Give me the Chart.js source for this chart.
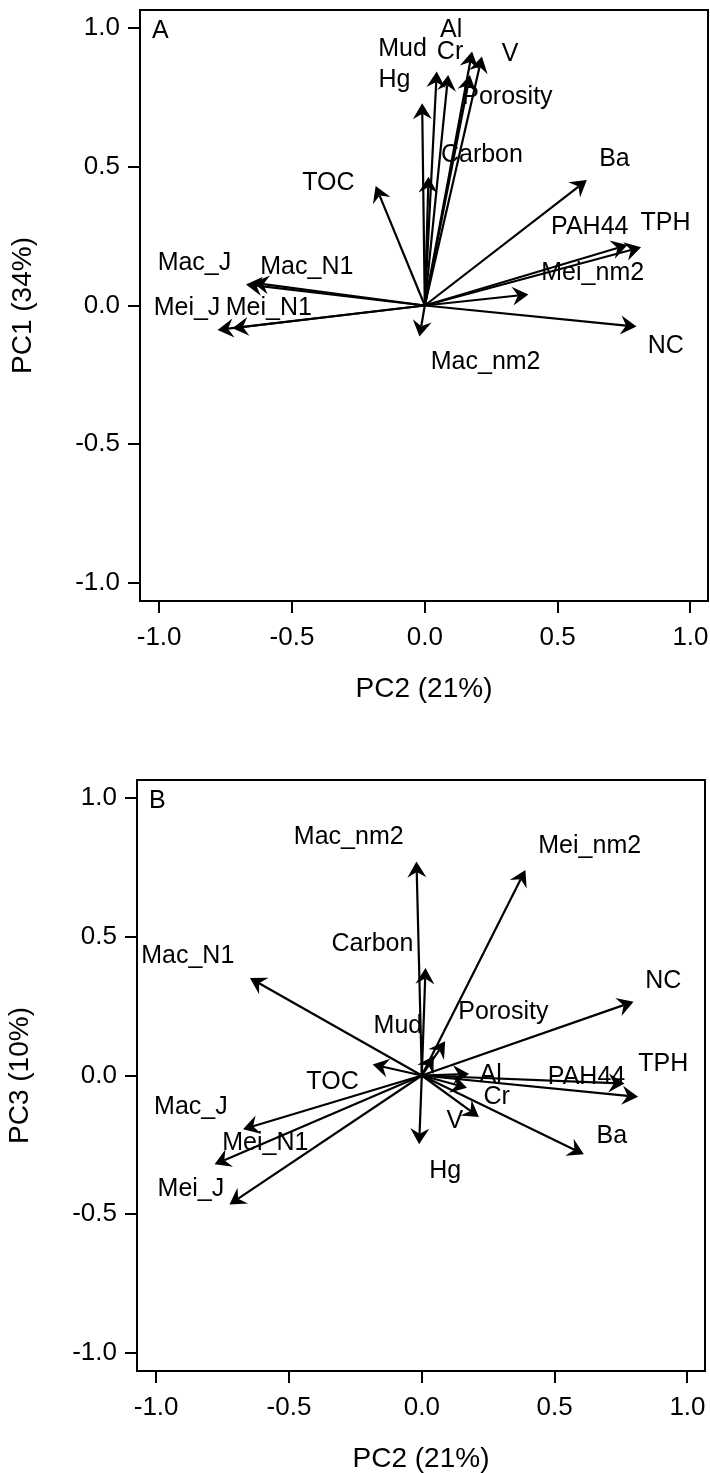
<!DOCTYPE html>
<html>
<head>
<meta charset="utf-8">
<script src="https://cdn.jsdelivr.net/npm/chart.js@4.4.1/dist/chart.umd.min.js"></script>
<style>
html,body{margin:0;padding:0;background:#fff;width:710px;height:1473px;overflow:hidden;position:relative}
canvas{position:absolute;background:#fff}
#cA{left:0;top:0}
#cB{left:-3px;top:770px}
</style>
</head>
<body>
<canvas id="cA" width="710" height="703"></canvas>
<canvas id="cB" width="710" height="703"></canvas>
<script>
// ---- data (PCA loadings) ----
const variables = ["Al","Mud","Cr","V","Hg","Porosity","Carbon","Ba","TOC","PAH44","TPH","Mac_J","Mac_N1","Mei_nm2","Mei_J","Mei_N1","NC","Mac_nm2"];
const pc2 = [0.178, 0.045, 0.17, 0.215, -0.01, 0.088, 0.014, 0.61, -0.185, 0.763, 0.814, -0.673, -0.647, 0.39, -0.724, -0.78, 0.797, -0.02];
const pc1 = [0.915, 0.843, 0.831, 0.897, 0.729, 0.831, 0.464, 0.452, 0.431, 0.218, 0.21, 0.076, 0.082, 0.04, -0.082, -0.088, -0.076, -0.112];
const pc3 = [0.005, 0.07, -0.044, -0.15, -0.248, 0.123, 0.387, -0.284, 0.04, -0.029, -0.077, -0.194, 0.351, 0.741, -0.465, -0.32, 0.266, 0.771];

// label anchors (data units) for each panel
const labelA_pc2 = [0.099, -0.084, 0.095, 0.321, -0.114, 0.311, 0.215, 0.714, -0.363, 0.621, 0.906, -0.867, -0.444, 0.632, -0.895, -0.587, 0.907, 0.229];
const labelA_pc1 = [0.993, 0.923, 0.915, 0.906, 0.813, 0.752, 0.542, 0.527, 0.440, 0.284, 0.298, 0.152, 0.140, 0.116, -0.009, -0.009, -0.148, -0.203];
const labelB_pc2 = [0.259, -0.090, 0.282, 0.124, 0.088, 0.307, -0.186, 0.715, -0.336, 0.620, 0.909, -0.869, -0.881, 0.632, -0.869, -0.589, 0.909, -0.275];
const labelB_pc3 = [0.0, 0.178, -0.079, -0.166, -0.345, 0.228, 0.472, -0.220, -0.025, -0.005, 0.040, -0.115, 0.432, 0.825, -0.411, -0.242, 0.340, 0.858];

const axisTicks = [-1, -0.5, 0, 0.5, 1];
const xTitle = "PC2 (21%)";
const yTitleA = "PC1 (34%)";
const yTitleB = "PC3 (10%)";

// ---- drawing ----
const FONT = '"Liberation Sans", Arial, Helvetica, sans-serif';

function biplotPlugin(labelX, labelY, letter) {
  return {
    id: 'biplot',
    afterDatasetsDraw(chart) {
      const {ctx, chartArea: ca, scales: {x, y}} = chart;
      const meta = chart.getDatasetMeta(0);
      const ox = x.getPixelForValue(0), oy = y.getPixelForValue(0);
      ctx.save();
      ctx.fillStyle = '#000';
      ctx.font = '25px ' + FONT;
      ctx.textAlign = 'center';
      ctx.textBaseline = 'middle';
      variables.forEach((v, i) => {
        ctx.fillText(v, x.getPixelForValue(labelX[i]), y.getPixelForValue(labelY[i]));
      });
      ctx.strokeStyle = '#000';
      ctx.lineWidth = 2.2;
      meta.data.forEach(pt => {
        const tx = pt.x, ty = pt.y;
        const dx = tx - ox, dy = ty - oy, len = Math.hypot(dx, dy);
        const ux = dx / len, uy = dy / len, nx = -uy, ny = ux;
        const L = 16, W = 9.5, N = 10.5;
        const bx = tx - ux * N, by = ty - uy * N;
        ctx.beginPath(); ctx.moveTo(ox, oy); ctx.lineTo(bx, by); ctx.stroke();
        ctx.beginPath();
        ctx.moveTo(tx, ty);
        ctx.lineTo(tx - ux * L + nx * W, ty - uy * L + ny * W);
        ctx.lineTo(bx, by);
        ctx.lineTo(tx - ux * L - nx * W, ty - uy * L - ny * W);
        ctx.closePath();
        ctx.fill();
      });
      ctx.lineWidth = 2;
      ctx.strokeRect(ca.left, ca.top, ca.right - ca.left, ca.bottom - ca.top);
      ctx.textAlign = 'left';
      ctx.fillText(letter, ca.left + 12, ca.top + 21);
      ctx.restore();
    }
  };
}

function makeChart(id, yVals, yTitle, labelX, labelY, letter) {
  return new Chart(document.getElementById(id), {
    type: 'scatter',
    data: {
      datasets: [{
        data: variables.map((v, i) => ({x: pc2[i], y: yVals[i]})),
        pointRadius: 0, pointHoverRadius: 0, showLine: false
      }]
    },
    options: {
      responsive: false,
      animation: false,
      devicePixelRatio: 1,
      events: [],
      layout: {padding: {top: 10, right: 2, left: 0, bottom: 0}},
      plugins: {legend: {display: false}, tooltip: {enabled: false}},
      scales: {
        x: {
          type: 'linear', min: -1.072, max: 1.066,
          afterBuildTicks: s => { s.ticks = axisTicks.map(v => ({value: v})); },
          afterFit: s => { s.height = 102; s.paddingLeft = 0; s.paddingRight = 0; },
          grid: {display: true, drawOnChartArea: false, drawTicks: true, tickLength: 12, color: '#000', lineWidth: 2},
          border: {display: false},
          ticks: {color: '#000', font: {family: FONT, size: 26}, padding: 9, maxRotation: 0, autoSkip: false,
                  callback: v => Number(v).toFixed(1)},
          title: {display: true, text: xTitle, color: '#000', font: {family: FONT, size: 28, lineHeight: 1}, padding: {top: 0, bottom: 0}}
        },
        y: {
          type: 'linear', min: -1.065, max: 1.065,
          afterBuildTicks: s => { s.ticks = axisTicks.map(v => ({value: v})); },
          afterFit: s => { s.width = 140; s.paddingTop = 0; s.paddingBottom = 0; },
          grid: {display: true, drawOnChartArea: false, drawTicks: true, tickLength: 12, color: '#000', lineWidth: 2},
          border: {display: false},
          ticks: {color: '#000', font: {family: FONT, size: 26}, padding: 8, autoSkip: false,
                  callback: v => Number(v).toFixed(1)},
          title: {display: true, text: yTitle, color: '#000', font: {family: FONT, size: 28, lineHeight: 1}, padding: {top: 9, bottom: 0}}
        }
      }
    },
    plugins: [biplotPlugin(labelX, labelY, letter)]
  });
}

makeChart('cA', pc1, yTitleA, labelA_pc2, labelA_pc1, 'A');
makeChart('cB', pc3, yTitleB, labelB_pc2, labelB_pc3, 'B');
</script>
</body>
</html>
